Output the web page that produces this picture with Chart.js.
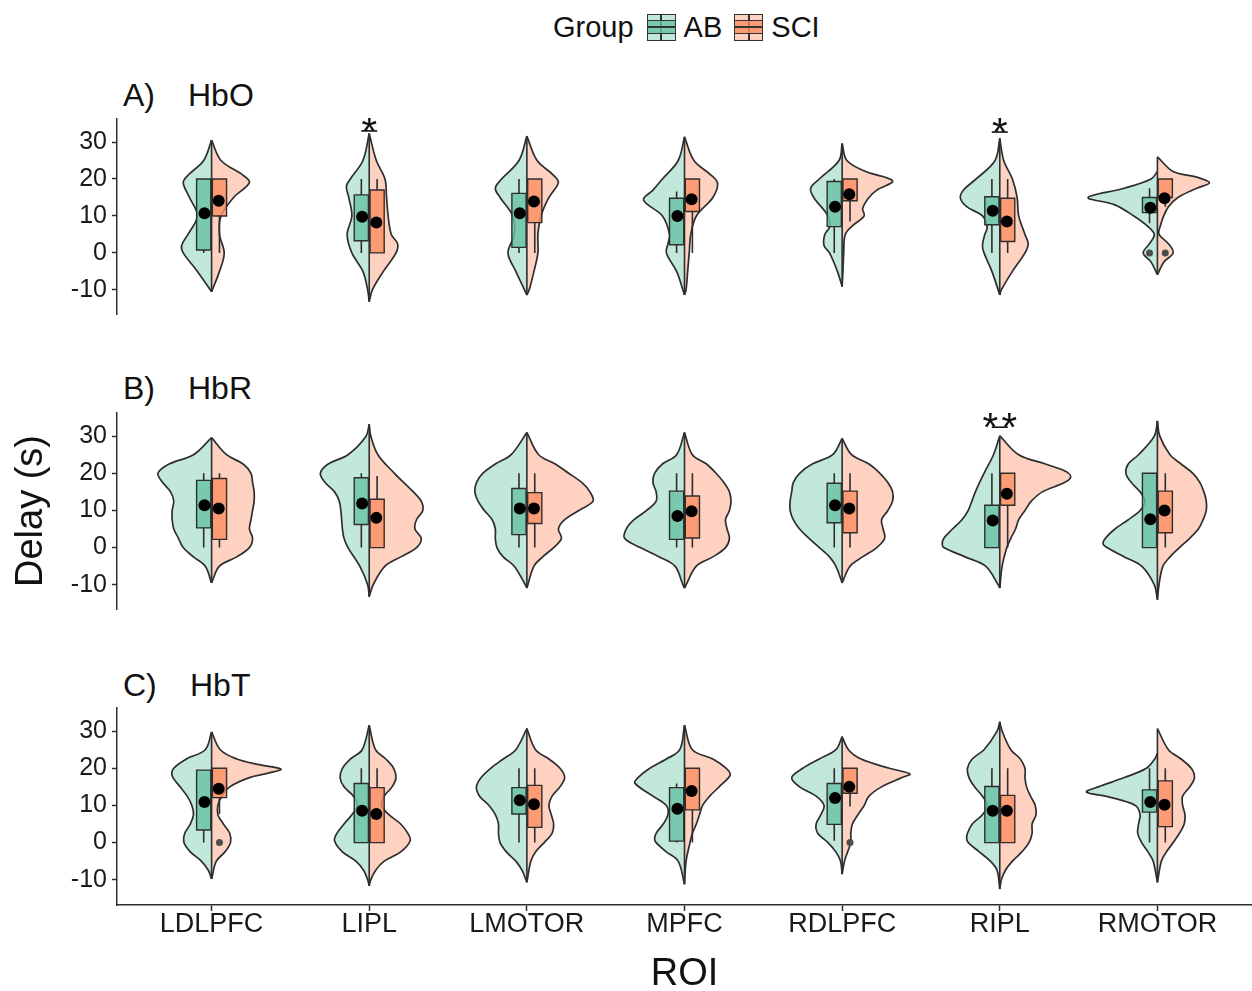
<!DOCTYPE html>
<html lang="en">
<head>
<meta charset="utf-8">
<title>Delay by ROI and group</title>
<script src="https://cdn.jsdelivr.net/npm/chart.js@4.4.1/dist/chart.umd.min.js"></script>
<style>
  html, body { margin: 0; padding: 0; background: #fff; }
  #page {
    position: relative;
    width: 1252px;
    height: 991px;
    overflow: hidden;
    font-family: 'Liberation Sans', Arial, Helvetica, sans-serif;
    color: #111;
  }
  canvas { position: absolute; left: 0; }
  .panel-title { position: absolute; font-size: 32px; line-height: 1; white-space: pre; }
  #legend {
    position: absolute; top: 12px; left: 553px; height: 30px;
    display: flex; align-items: center; font-size: 29px; line-height: 1;
  }
  .legend-title { margin-right: 13px; }
  .legend-label { margin-right: 12px; }
  .legend-key {
    position: relative; width: 27px; height: 25px; margin-right: 8px;
    border: 1.5px solid #333;
  }
  .legend-key i { position: absolute; display: block; }
  .lk-whisker { left: 50%; top: 0; bottom: 0; width: 1.5px; margin-left: -0.75px; background: #333; }
  .lk-box { left: 0; right: 0; top: 22%; bottom: 22%; border-top: 1.5px solid #333; border-bottom: 1.5px solid #333; }
  .lk-median { left: 0; right: 0; top: 50%; height: 1.5px; margin-top: -0.75px; background: #333; }
</style>
</head>
<body>
<div id="page">
  <div id="legend"></div>

  <div class="panel-title" style="left:123px; top:79px;">A)</div>
  <div class="panel-title" style="left:188px; top:79px;">HbO</div>
  <div class="panel-title" style="left:123px; top:372px;">B)</div>
  <div class="panel-title" style="left:188px; top:372px;">HbR</div>
  <div class="panel-title" style="left:123px; top:669px;">C)</div>
  <div class="panel-title" style="left:190px; top:669px;">HbT</div>

  <canvas id="chart-hbo" width="1252" height="197" style="top:118px;"></canvas>
  <canvas id="chart-hbr" width="1252" height="198" style="top:412px;"></canvas>
  <canvas id="chart-hbt" width="1252" height="284" style="top:707px;"></canvas>
</div>

<script>
// ---------------------------------------------------------------------------
// Data
// ---------------------------------------------------------------------------
const roiNames = ['LDLPFC', 'LIPL', 'LMOTOR', 'MPFC', 'RDLPFC', 'RIPL', 'RMOTOR'];
const groupNames = ['AB', 'SCI'];
const yTicks = [-10, 0, 10, 20, 30];

// Violin outlines, one per ROI: [delay (s), half-width in ROI units], bottom tip to top tip.
const hboViolinAB = [
  [[-10.5, 0], [-5, 0.09], [0, 0.18], [2, 0.19], [5, 0.15], [10, 0.09], [15, 0.14], [19, 0.18], [21, 0.15], [25, 0.05], [30.5, 0]],
  [[-13.2, 0], [-10, 0.01], [-5, 0.04], [0, 0.11], [5, 0.14], [10, 0.11], [15, 0.13], [18, 0.145], [20, 0.12], [25, 0.04], [32.3, 0]],
  [[-11.4, 0], [-10, 0.015], [-5, 0.07], [0, 0.12], [5, 0.08], [10, 0.09], [15, 0.17], [17.5, 0.2], [20, 0.16], [25, 0.05], [31.6, 0]],
  [[-11.4, 0], [-10, 0.01], [-5, 0.05], [0, 0.115], [2.5, 0.105], [5, 0.095], [10, 0.14], [14.3, 0.26], [17, 0.2], [20, 0.14], [25, 0.04], [31.4, 0]],
  [[-9.1, 0], [-5, 0.03], [0, 0.08], [2, 0.115], [5, 0.11], [7, 0.08], [10, 0.09], [15, 0.18], [17.5, 0.2], [20, 0.145], [25, 0.02], [29.6, 0]],
  [[-11.4, 0], [-10, 0.01], [-5, 0.05], [0, 0.1], [2, 0.11], [5, 0.095], [7, 0.08], [10, 0.11], [12.5, 0.21], [14.8, 0.25], [17, 0.23], [20, 0.15], [25, 0.03], [31, 0]],
  [[-5.9, 0], [-2.5, 0.04], [0, 0.09], [2.5, 0.05], [5, 0.02], [7.5, 0.07], [10, 0.15], [13, 0.27], [15, 0.44], [17.5, 0.21], [20, 0.04], [22, 0]],
];
const hboViolinSCI = [
  [[-10.5, 0], [-5, 0.05], [0, 0.08], [5, 0.05], [10, 0.06], [15, 0.14], [19, 0.24], [21, 0.2], [25, 0.06], [30.5, 0]],
  [[-13.2, 0], [-10, 0.02], [-5, 0.09], [0, 0.17], [2.5, 0.18], [5, 0.14], [10, 0.12], [15, 0.11], [20, 0.1], [25, 0.045], [32.3, 0]],
  [[-11.4, 0], [-10, 0.015], [-5, 0.045], [0, 0.07], [5, 0.07], [10, 0.09], [15, 0.14], [19, 0.2], [21, 0.17], [25, 0.065], [31.6, 0]],
  [[-11.4, 0], [-10, 0.01], [-5, 0.02], [0, 0.03], [5, 0.04], [10, 0.075], [15, 0.18], [18.8, 0.21], [21, 0.17], [25, 0.06], [31.4, 0]],
  [[-9.1, 0], [-5, 0.005], [0, 0.01], [5, 0.02], [7.5, 0.07], [10, 0.14], [12, 0.13], [15, 0.17], [17, 0.22], [19.5, 0.32], [22, 0.15], [25, 0.03], [29.6, 0]],
  [[-11.4, 0], [-10, 0.01], [-5, 0.08], [0, 0.16], [2.5, 0.18], [5, 0.16], [10, 0.12], [15, 0.11], [20, 0.08], [25, 0.025], [31, 0]],
  [[-5.9, 0], [-2.5, 0.04], [0, 0.1], [2.5, 0.07], [5, 0.01], [7.5, 0.02], [10, 0.04], [12.5, 0.07], [15, 0.13], [17.5, 0.25], [19, 0.33], [20.5, 0.25], [22, 0.1], [26, 0]],
];

const hbrViolinAB = [
  [[-9.5, 0], [-5, 0.04], [-2.5, 0.115], [0, 0.18], [2.5, 0.21], [5, 0.24], [7.5, 0.25], [10, 0.25], [12.5, 0.24], [15, 0.26], [17.5, 0.31], [20, 0.34], [22.5, 0.27], [25, 0.115], [29.6, 0]],
  [[-13.2, 0], [-10, 0.01], [-5, 0.06], [0, 0.135], [2.5, 0.16], [5, 0.17], [10, 0.18], [12.5, 0.19], [15, 0.22], [17.5, 0.28], [20, 0.31], [22.5, 0.26], [25, 0.135], [30, 0.02], [33.2, 0]],
  [[-10.9, 0], [-10, 0.01], [-5, 0.08], [-2.5, 0.15], [0, 0.19], [2.5, 0.2], [5, 0.2], [7.5, 0.22], [10, 0.27], [12.5, 0.31], [15, 0.33], [17.5, 0.32], [20, 0.28], [22.5, 0.2], [25, 0.1], [31, 0]],
  [[-10.9, 0], [-10, 0.01], [-5, 0.06], [-2.5, 0.16], [0, 0.28], [2.5, 0.38], [5, 0.37], [7.5, 0.32], [10, 0.24], [12.5, 0.18], [15, 0.18], [17.5, 0.2], [20, 0.19], [22.5, 0.14], [25, 0.05], [31, 0]],
  [[-9.5, 0], [-5, 0.04], [-2.5, 0.08], [0, 0.145], [2.5, 0.21], [5, 0.27], [7.5, 0.31], [10, 0.33], [12.5, 0.33], [15, 0.32], [17.5, 0.31], [20, 0.27], [22.5, 0.19], [25, 0.06], [29.4, 0]],
  [[-10.9, 0], [-10, 0.01], [-5, 0.09], [-2.5, 0.22], [0, 0.355], [1, 0.365], [2.5, 0.355], [5, 0.3], [7.5, 0.24], [10, 0.2], [15, 0.155], [20, 0.1], [25, 0.04], [30.1, 0]],
  [[-14, 0], [-10, 0.02], [-5, 0.1], [-2.5, 0.21], [0, 0.32], [1, 0.345], [2.5, 0.33], [5, 0.27], [7.5, 0.185], [10, 0.11], [12.5, 0.08], [15, 0.11], [17.5, 0.165], [20, 0.2], [22.5, 0.185], [25, 0.12], [30, 0.02], [34.1, 0]],
];
const hbrViolinSCI = [
  [[-9.5, 0], [-5, 0.05], [-2.5, 0.16], [0, 0.24], [2.5, 0.26], [5, 0.24], [7.5, 0.25], [10, 0.26], [12.5, 0.27], [15, 0.27], [17.5, 0.26], [20, 0.25], [22.5, 0.2], [25, 0.095], [29.6, 0]],
  [[-13.2, 0], [-10, 0.025], [-5, 0.1], [-2.5, 0.2], [0, 0.3], [2.5, 0.33], [5, 0.29], [7.5, 0.3], [10, 0.34], [12.5, 0.33], [15, 0.28], [20, 0.16], [25, 0.055], [30, 0.01], [33.2, 0]],
  [[-10.9, 0], [-5, 0.045], [-2.5, 0.1], [0, 0.17], [2.5, 0.22], [5, 0.2], [7.5, 0.24], [10, 0.33], [12.5, 0.42], [15, 0.4], [17.5, 0.35], [20, 0.265], [22.5, 0.18], [25, 0.075], [31, 0]],
  [[-10.9, 0], [-10, 0.01], [-5, 0.075], [-2.5, 0.18], [0, 0.26], [2.5, 0.285], [5, 0.27], [7.5, 0.26], [10, 0.285], [12.5, 0.295], [15, 0.285], [17.5, 0.25], [20, 0.2], [22.5, 0.14], [25, 0.05], [31, 0]],
  [[-9.5, 0], [-5, 0.05], [-2.5, 0.13], [0, 0.22], [2.5, 0.27], [5, 0.26], [7.5, 0.25], [10, 0.29], [12.5, 0.32], [15, 0.32], [17.5, 0.29], [20, 0.24], [22.5, 0.17], [25, 0.06], [29.4, 0]],
  [[-10.9, 0], [-5, 0.015], [0, 0.045], [2.5, 0.07], [5, 0.1], [7.5, 0.12], [10, 0.16], [12.5, 0.2], [15, 0.27], [17.5, 0.41], [19, 0.45], [20.5, 0.42], [22.5, 0.29], [25, 0.12], [30.1, 0]],
  [[-14, 0], [-10, 0.01], [-5, 0.035], [-2.5, 0.08], [0, 0.14], [2.5, 0.205], [5, 0.26], [7.5, 0.29], [10, 0.31], [12.5, 0.31], [15, 0.295], [17.5, 0.27], [20, 0.225], [22.5, 0.15], [25, 0.08], [30, 0.015], [34.1, 0]],
];

const hbtViolinAB = [
  [[-9.8, 0], [-7.5, 0.02], [-5, 0.065], [-2.5, 0.135], [0, 0.175], [2.5, 0.17], [5, 0.135], [7.5, 0.115], [10, 0.125], [12.5, 0.155], [15, 0.2], [18, 0.25], [20, 0.24], [22.5, 0.16], [25, 0.04], [29.8, 0]],
  [[-11.6, 0], [-10, 0.01], [-7.5, 0.035], [-5, 0.085], [-2.5, 0.17], [0.5, 0.22], [2.5, 0.205], [5, 0.16], [7.5, 0.11], [10, 0.075], [12.5, 0.1], [15, 0.16], [17.5, 0.185], [20, 0.17], [22.5, 0.12], [25, 0.045], [31.6, 0]],
  [[-10.7, 0], [-7.5, 0.03], [-5, 0.07], [-2.5, 0.13], [0, 0.17], [2.5, 0.18], [5, 0.18], [7.5, 0.2], [10, 0.24], [12.5, 0.3], [15, 0.32], [17.5, 0.29], [20, 0.23], [22.5, 0.15], [25, 0.07], [30.7, 0]],
  [[-11.2, 0], [-5, 0.04], [-2.5, 0.115], [0, 0.18], [1, 0.19], [2.5, 0.18], [5, 0.135], [7.5, 0.105], [10, 0.115], [12.5, 0.2], [16, 0.315], [17.5, 0.295], [20, 0.22], [22.5, 0.115], [25, 0.03], [31.6, 0]],
  [[-8.5, 0], [-5, 0.01], [-2.5, 0.04], [0, 0.09], [2.5, 0.155], [5, 0.165], [7.5, 0.135], [10, 0.115], [12.5, 0.165], [15, 0.27], [17.5, 0.32], [20, 0.25], [22.5, 0.145], [25, 0.04], [28.5, 0]],
  [[-12.5, 0], [-7.5, 0.017], [-5, 0.06], [-2.5, 0.13], [0, 0.2], [1, 0.21], [2.5, 0.205], [5, 0.175], [7.5, 0.11], [10, 0.08], [12.5, 0.11], [15, 0.16], [17.5, 0.195], [20, 0.205], [22.5, 0.175], [25, 0.1], [30, 0.017], [32.5, 0]],
  [[-10.7, 0], [-5, 0.027], [-2.5, 0.06], [0, 0.1], [2.5, 0.125], [5, 0.12], [7.5, 0.11], [10, 0.14], [12.3, 0.31], [13.6, 0.45], [15, 0.375], [17.5, 0.21], [20, 0.07], [22.5, 0.017], [24, 0]],
];
const hbtViolinSCI = [
  [[-9.8, 0], [-5, 0.03], [-2.5, 0.085], [0, 0.12], [2.5, 0.115], [5, 0.075], [7.5, 0.04], [10, 0.04], [12.5, 0.065], [15, 0.115], [17.5, 0.24], [18.7, 0.36], [19.8, 0.44], [21, 0.3], [22.5, 0.16], [25, 0.055], [29.8, 0]],
  [[-11.6, 0], [-10, 0.01], [-7.5, 0.04], [-5, 0.095], [-2.5, 0.2], [0.5, 0.26], [2.5, 0.245], [5, 0.2], [7.5, 0.125], [10, 0.08], [12.5, 0.095], [15, 0.145], [17.5, 0.17], [20, 0.155], [22.5, 0.105], [25, 0.04], [31.6, 0]],
  [[-10.7, 0], [-5, 0.025], [-2.5, 0.055], [0, 0.11], [2.5, 0.16], [5, 0.17], [7.5, 0.155], [10, 0.14], [12.5, 0.16], [15, 0.21], [17.5, 0.24], [20, 0.21], [22.5, 0.14], [25, 0.055], [30.7, 0]],
  [[-11.2, 0], [-5, 0.01], [0, 0.035], [2.5, 0.05], [5, 0.075], [7.5, 0.095], [10, 0.115], [12.5, 0.16], [15, 0.22], [17.5, 0.28], [18.5, 0.29], [20, 0.265], [22.5, 0.18], [25, 0.05], [31.6, 0]],
  [[-8.5, 0], [-5, 0.015], [-2.5, 0.035], [0, 0.055], [2.5, 0.055], [5, 0.065], [7.5, 0.1], [10, 0.14], [12.5, 0.17], [15, 0.25], [17.5, 0.38], [18.5, 0.43], [20, 0.3], [22.5, 0.12], [25, 0.04], [28.5, 0]],
  [[-12.5, 0], [-10, 0.01], [-7.5, 0.035], [-5, 0.08], [-2.5, 0.14], [0, 0.185], [2.5, 0.205], [5, 0.205], [7.5, 0.23], [10, 0.225], [12.5, 0.195], [15, 0.17], [17.5, 0.16], [20, 0.16], [22.5, 0.13], [25, 0.07], [30, 0.015], [32.5, 0]],
  [[-10.7, 0], [-5, 0.025], [-2.5, 0.057], [0, 0.1], [2.5, 0.14], [5, 0.17], [7.5, 0.175], [10, 0.16], [12.5, 0.16], [15, 0.205], [17.5, 0.235], [20, 0.215], [22.5, 0.15], [25, 0.07], [30.7, 0]],
];

// Boxplots, one per ROI: [lower whisker, Q1, Q3, upper whisker]
const hboBoxAB = [[0, 0.8, 20, 20], [0, 3.3, 15.7, 20], [0, 1.5, 16.1, 20], [0, 2.2, 14.8, 16.6], [0, 7.1, 19.3, 20], [0, 7.6, 15.2, 20], [8, 10.9, 15, 17.5]];
const hboBoxSCI = [[0, 10, 20, 20], [0, 0, 17, 20], [0, 8.2, 20, 20], [0, 11.2, 20, 20], [8.5, 14.1, 20, 20], [0, 3.1, 14.8, 20], [12.5, 15, 20, 20]];
const hbrBoxAB = [[0, 5.3, 18.1, 20], [0, 6.2, 18.8, 20], [0, 3.5, 15.9, 20], [0, 2.2, 15.2, 20], [0, 6.7, 17.3, 20], [0, 0, 11.4, 20], [0, 0, 20, 20]];
const hbrBoxSCI = [[0, 2.2, 18.6, 20], [0, 0, 13, 19.3], [0, 6.5, 14.8, 20], [0, 2.6, 13.9, 20], [0, 4, 15.2, 20], [0, 11.4, 20, 20], [0, 4, 15.2, 20]];
const hbtBoxAB = [[0, 3.4, 19.5, 19.5], [0, 0, 15.9, 20], [0, 7.7, 14.8, 20], [0, 0.4, 14.8, 15.9], [0.5, 4.9, 15.9, 20], [0, 0, 15.1, 20], [0, 8.2, 14.2, 20]];
const hbtBoxSCI = [[7.7, 12.1, 20, 20], [0, 0, 14.8, 20], [0, 4.1, 15.4, 20], [0, 8.8, 20, 20], [9.7, 13.3, 20, 20], [0, 0, 12.7, 20], [0, 4.3, 16.6, 20]];

// Group means (black dots)
const hboMeanAB = [10.7, 9.8, 10.7, 10.0, 12.5, 11.4, 12.2];
const hboMeanSCI = [14.1, 8.2, 13.9, 14.5, 15.9, 8.5, 14.8];
const hbrMeanAB = [11.4, 11.9, 10.5, 8.5, 11.4, 7.3, 7.6];
const hbrMeanSCI = [10.5, 8.0, 10.5, 9.8, 10.5, 14.5, 10.0];
const hbtMeanAB = [10.9, 8.6, 11.4, 9.1, 12.0, 8.6, 10.9];
const hbtMeanSCI = [14.5, 7.7, 10.3, 13.9, 15.0, 8.6, 10.2];

// Outliers: [roi, group, delay]
const hboOutliers = [['RMOTOR', 'AB', 0], ['RMOTOR', 'SCI', 0]];
const hbrOutliers = [];
const hbtOutliers = [['LDLPFC', 'SCI', 0], ['RDLPFC', 'SCI', 0]];

// Significance marks: [roi, stars, height of the bar (s)]
const hboSig = [['LIPL', '*', 33], ['RIPL', '*', 32.7]];
const hbrSig = [['RIPL', '**', 32.4]];
const hbtSig = [];

// ---------------------------------------------------------------------------
// Styling and drawing
// ---------------------------------------------------------------------------
const FONT = "'Liberation Sans', Arial, Helvetica, sans-serif";
const INK = '#2e2e2e';
const TEXT = '#1a1a1a';
const VIOLIN_FILL = ['rgba(102, 194, 165, 0.4)', 'rgba(252, 141, 98, 0.4)'];
const BOX_FILL = ['rgba(102, 194, 165, 0.8)', 'rgba(252, 141, 98, 0.8)'];
const SIDE = [-1, 1];

Chart.defaults.font.family = FONT;

const PANELS = [
  { canvas: 'chart-hbo', violins: [hboViolinAB, hboViolinSCI], boxes: [hboBoxAB, hboBoxSCI],
    means: [hboMeanAB, hboMeanSCI], outliers: hboOutliers, sig: hboSig, yTitle: '', xAxis: false },
  { canvas: 'chart-hbr', violins: [hbrViolinAB, hbrViolinSCI], boxes: [hbrBoxAB, hbrBoxSCI],
    means: [hbrMeanAB, hbrMeanSCI], outliers: hbrOutliers, sig: hbrSig, yTitle: 'Delay (s)', xAxis: false },
  { canvas: 'chart-hbt', violins: [hbtViolinAB, hbtViolinSCI], boxes: [hbtBoxAB, hbtBoxSCI],
    means: [hbtMeanAB, hbtMeanSCI], outliers: hbtOutliers, sig: hbtSig, yTitle: '', xAxis: true },
];

// Half violin: outline traced on one side of the ROI centre, filled as a closed shape.
function violinDataset(center, outline, g) {
  return {
    data: outline.map(([y, w]) => ({ x: center + SIDE[g] * w, y })),
    showLine: true,
    fill: 'shape',
    tension: 0.35,
    backgroundColor: VIOLIN_FILL[g],
    borderColor: INK,
    borderWidth: 1.7,
    pointRadius: 0,
    order: 6,
  };
}

function boxDataset(center, box, g) {
  const inner = center + SIDE[g] * 0.005;
  const outer = center + SIDE[g] * 0.095;
  const q1 = box[1];
  const q3 = box[2];
  return {
    data: [
      { x: inner, y: q1 }, { x: outer, y: q1 }, { x: outer, y: q3 },
      { x: inner, y: q3 }, { x: inner, y: q1 },
    ],
    showLine: true,
    fill: 'shape',
    tension: 0,
    backgroundColor: BOX_FILL[g],
    borderColor: INK,
    borderWidth: 1.4,
    pointRadius: 0,
    order: 3,
  };
}

// Violin centre lines and box whiskers, as one broken line.
function segmentDataset(panel) {
  const pts = [];
  const gap = () => ({ x: null, y: null });
  roiNames.forEach((_, i) => {
    const c = i + 1;
    const ab = panel.violins[0][i];
    const sci = panel.violins[1][i];
    const lo = Math.min(ab[0][0], sci[0][0]);
    const hi = Math.max(ab[ab.length - 1][0], sci[sci.length - 1][0]);
    pts.push({ x: c, y: lo }, { x: c, y: hi }, gap());
    panel.boxes.forEach((boxes, g) => {
      const [wLo, q1, q3, wHi] = boxes[i];
      const x = c + SIDE[g] * 0.05;
      if (wLo < q1) pts.push({ x, y: wLo }, { x, y: q1 }, gap());
      if (wHi > q3) pts.push({ x, y: q3 }, { x, y: wHi }, gap());
    });
  });
  return {
    data: pts, showLine: true, spanGaps: false, tension: 0,
    borderColor: INK, borderWidth: 1.6, pointRadius: 0, order: 4,
  };
}

function meanDataset(panel) {
  const pts = [];
  panel.means.forEach((means, g) => {
    means.forEach((m, i) => pts.push({ x: i + 1 + SIDE[g] * 0.045, y: m }));
  });
  return { data: pts, pointRadius: 6, pointBackgroundColor: '#000', pointBorderWidth: 0, order: 0 };
}

function outlierDataset(panel) {
  const pts = panel.outliers.map(([roi, group, v]) => ({
    x: roiNames.indexOf(roi) + 1 + SIDE[groupNames.indexOf(group)] * 0.05,
    y: v,
  }));
  return { data: pts, pointRadius: 3.5, pointBackgroundColor: '#4d4d4d', pointBorderWidth: 0, order: 1 };
}

// Asterisks with a short bar over significant ROIs.
const sigPlugin = {
  id: 'sigMarks',
  afterDatasetsDraw(chart, args, opts) {
    const { ctx } = chart;
    const xs = chart.scales.x;
    const ys = chart.scales.y;
    (opts.marks || []).forEach(([roi, label, at]) => {
      const cx = xs.getPixelForValue(roiNames.indexOf(roi) + 1);
      const by = ys.getPixelForValue(at);
      ctx.save();
      ctx.strokeStyle = '#111';
      ctx.lineWidth = 1.6;
      ctx.beginPath();
      ctx.moveTo(cx - 8, by);
      ctx.lineTo(cx + 8, by);
      ctx.stroke();
      ctx.fillStyle = '#111';
      ctx.font = `40px ${FONT}`;
      ctx.textAlign = 'center';
      ctx.textBaseline = 'alphabetic';
      label.split('').forEach((ch, k) => {
        const dx = (k - (label.length - 1) / 2) * 19;
        ctx.fillText(ch, cx + dx, by + 14);
      });
      ctx.restore();
    });
  },
};

function buildChart(panel) {
  const datasets = [];
  roiNames.forEach((_, i) => {
    [0, 1].forEach((g) => {
      datasets.push(violinDataset(i + 1, panel.violins[g][i], g));
      datasets.push(boxDataset(i + 1, panel.boxes[g][i], g));
    });
  });
  datasets.push(segmentDataset(panel));
  datasets.push(meanDataset(panel));
  if (panel.outliers.length) datasets.push(outlierDataset(panel));

  return new Chart(document.getElementById(panel.canvas), {
    type: 'scatter',
    data: { datasets },
    options: {
      responsive: false,
      animation: false,
      events: [],
      layout: { padding: 0, autoPadding: false },
      plugins: {
        legend: { display: false },
        tooltip: { enabled: false },
        sigMarks: { marks: panel.sig },
      },
      scales: {
        x: {
          type: 'linear',
          min: 0.4,
          max: 7.6,
          display: panel.xAxis,
          afterBuildTicks: (s) => { s.ticks = roiNames.map((_, i) => ({ value: i + 1 })); },
          afterFit: (s) => {
            if (!panel.xAxis) return;
            s.height = 86;
            s.paddingLeft = 0;
            s.paddingRight = 0;
          },
          grid: { drawOnChartArea: false, tickLength: 6, tickWidth: 1.5, tickColor: INK },
          border: { color: INK, width: 1.5 },
          ticks: {
            callback: (v) => roiNames[v - 1],
            font: { size: 27 },
            color: TEXT,
            padding: -3,
            maxRotation: 0,
            autoSkip: false,
          },
          title: {
            display: true,
            text: 'ROI',
            font: { size: 38, lineHeight: 1 },
            color: '#111',
            padding: { top: 0, bottom: -3 },
          },
        },
        y: {
          type: 'linear',
          min: -16.8,
          max: 36.5,
          afterBuildTicks: (s) => { s.ticks = yTicks.map((value) => ({ value })); },
          afterFit: (s) => { s.width = 117; s.paddingTop = 0; s.paddingBottom = 0; },
          grid: { drawOnChartArea: false, tickLength: 5, tickWidth: 1.5, tickColor: INK },
          border: { color: INK, width: 1.5 },
          ticks: { font: { size: 25 }, color: TEXT, padding: 5, autoSkip: false },
          title: {
            display: !!panel.yTitle,
            text: panel.yTitle,
            font: { size: 38, lineHeight: 1 },
            color: '#111',
            padding: { top: 13, bottom: 0 },
          },
        },
      },
    },
    plugins: [sigPlugin],
  });
}

function buildLegend() {
  const legend = document.getElementById('legend');
  const title = document.createElement('span');
  title.className = 'legend-title';
  title.textContent = 'Group';
  legend.appendChild(title);

  groupNames.forEach((name, g) => {
    const key = document.createElement('span');
    key.className = 'legend-key';
    key.style.background = VIOLIN_FILL[g];
    key.innerHTML = '<i class="lk-whisker"></i><i class="lk-box"></i><i class="lk-median"></i>';
    key.querySelector('.lk-box').style.background = BOX_FILL[g];
    legend.appendChild(key);

    const label = document.createElement('span');
    label.className = 'legend-label';
    label.textContent = name;
    legend.appendChild(label);
  });
}

buildLegend();
PANELS.forEach(buildChart);
</script>
</body>
</html>
